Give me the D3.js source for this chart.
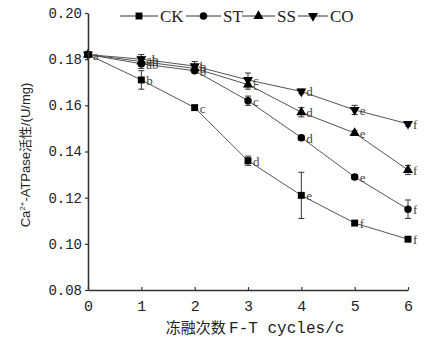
<!DOCTYPE html>
<html>
<head>
  <meta charset="utf-8">
  <script src="https://d3js.org/d3.v7.min.js"></script>
  <style>
    body { margin: 0; background: #fff; }
    .tick text { font-family: "Liberation Mono", "DejaVu Sans Mono", monospace; }
  </style>
</head>
<body>
  <div id="chart"></div>
  <script>
    // freeze-thaw cycles
    var cycles = [0, 1, 2, 3, 4, 5, 6];
    var groups = ["CK", "ST", "SS", "CO"];

    // Ca2+-ATPase activity (U/mg), mean and error
    var ckVals = [0.182, 0.171, 0.159, 0.136, 0.121, 0.109, 0.102];
    var stVals = [0.182, 0.178, 0.175, 0.162, 0.146, 0.129, 0.115];
    var ssVals = [0.182, 0.179, 0.176, 0.169, 0.157, 0.148, 0.132];
    var coVals = [0.182, 0.180, 0.177, 0.171, 0.166, 0.158, 0.152];

    var ckErr = [0.001, 0.004, 0.001, 0.002, 0.010, 0.001, 0.001];
    var stErr = [0.001, 0.002, 0.001, 0.002, 0.001, 0.001, 0.004];
    var ssErr = [0.001, 0.002, 0.001, 0.002, 0.002, 0.001, 0.002];
    var coErr = [0.001, 0.002, 0.002, 0.003, 0.001, 0.002, 0.001];

    // significance letters
    var ckSig = ["a", "b", "c", "d", "e", "f", "f"];
    var stSig = ["", "ab", "b", "c", "d", "e", "f"];
    var ssSig = ["", "ab", "b", "c", "d", "e", "f"];
    var coSig = ["", "ab", "b", "c", "d", "e", "f"];

    var yTicks = [0.08, 0.10, 0.12, 0.14, 0.16, 0.18, 0.20];

    var series = [
      { name: groups[0], vals: ckVals, err: ckErr, sig: ckSig, shape: d3.symbolSquare, size: 48 },
      { name: groups[1], vals: stVals, err: stErr, sig: stSig, shape: d3.symbolCircle, size: 44 },
      { name: groups[2], vals: ssVals, err: ssErr, sig: ssSig, shape: d3.symbolTriangle, size: 44 },
      { name: groups[3], vals: coVals, err: coErr, sig: coSig, shape: d3.symbolTriangle, size: 44, flip: true }
    ];

    var width = 434, height = 344;
    var svg = d3.select("#chart").append("svg")
      .attr("width", width)
      .attr("height", height);

    var xmin = 88, xmax = 408, ymin = 13, ymax = 290;

    var x = d3.scaleLinear().domain([0, 6]).range([xmin, xmax]);
    var y = d3.scaleLinear().domain([0.08, 0.20]).range([ymax, ymin]);

    var line = d3.line()
      .x((d, i) => x(cycles[i]))
      .y(d => y(d));

    var gData = svg.append("g");

    for (var s of series) {
      gData.append("path")
        .datum(s.vals)
        .attr("d", line)
        .attr("fill", "none")
        .attr("stroke", "#555")
        .attr("stroke-width", 1);
    }

    // error bars
    for (var s of series) {
      s.vals.forEach(function(v, i) {
        var cx = x(cycles[i]);
        var y0 = y(v - s.err[i]), y1 = y(v + s.err[i]);
        var g = gData.append("g").attr("stroke", "#333").attr("stroke-width", 1);
        g.append("line").attr("x1", cx).attr("x2", cx).attr("y1", y0).attr("y2", y1);
        g.append("line").attr("x1", cx - 3).attr("x2", cx + 3).attr("y1", y0).attr("y2", y0);
        g.append("line").attr("x1", cx - 3).attr("x2", cx + 3).attr("y1", y1).attr("y2", y1);
      });
    }

    // markers
    for (var s of series) {
      var sym = d3.symbol().type(s.shape).size(s.size);
      gData.selectAll(null)
        .data(s.vals)
        .enter()
        .append("path")
        .attr("d", sym)
        .attr("fill", "#000")
        .attr("transform", (d, i) => "translate(" + x(cycles[i]) + "," + y(d) + ")" + (s.flip ? " rotate(180)" : ""));
    }

    // letters
    for (var s of series) {
      gData.selectAll(null)
        .data(s.vals)
        .enter()
        .append("text")
        .attr("x", (d, i) => x(cycles[i]) + 5)
        .attr("y", d => y(d) + 5)
        .attr("font-family", "Liberation Serif, serif")
        .attr("font-size", 13)
        .attr("fill", "#444")
        .text((d, i) => s.sig[i]);
    }

    // axes
    var xAxis = d3.axisBottom(x).tickValues(cycles).tickFormat(d3.format("d"))
      .tickSizeInner(-3).tickSizeOuter(0).tickPadding(7);
    var yAxis = d3.axisLeft(y).tickValues(yTicks).tickFormat(d3.format(".2f"))
      .tickSizeInner(3).tickSizeOuter(0).tickPadding(3);

    var gx = svg.append("g")
      .attr("transform", "translate(0," + ymax + ")")
      .call(xAxis);
    var gy = svg.append("g")
      .attr("transform", "translate(" + xmin + ",0)")
      .call(yAxis);

    [gx, gy].forEach(function(g) {
      g.select(".domain").attr("stroke", "#333").attr("stroke-width", 1.6);
      g.selectAll(".tick line").attr("stroke", "#333").attr("stroke-width", 1.2);
      g.selectAll(".tick text").attr("font-size", 15).attr("fill", "#222");
    });
    gx.selectAll(".tick text").attr("dy", "0.9em");
    gy.selectAll(".tick text").attr("font-size", 14);

    // axis titles
    svg.append("text")
      .attr("x", 255)
      .attr("y", 333)
      .attr("text-anchor", "middle")
      .attr("font-size", 15)
      .attr("fill", "#222")
      .call(function(t) {
        t.append("tspan").attr("font-family", "Noto Sans CJK SC").text("冻融次数 ");
        t.append("tspan").attr("font-family", "Liberation Mono, monospace").attr("font-size", 16).text("F-T cycles/c");
      });

    var yt = svg.append("text")
      .attr("transform", "translate(30,155) rotate(-90)")
      .attr("text-anchor", "middle")
      .attr("font-size", 13)
      .attr("fill", "#222")
      .attr("font-family", "Liberation Sans, sans-serif");
    yt.append("tspan").text("Ca");
    yt.append("tspan").attr("font-size", 8).attr("dy", -5).text("2+");
    yt.append("tspan").attr("dy", 5).text("-ATPase");
    yt.append("tspan").attr("font-family", "Noto Sans CJK SC").text("活性");
    yt.append("tspan").text("/(U/mg)");

    // legend
    var legX = [120, 186, 242, 298];
    var legW = [38, 35, 33, 30];
    var legend = svg.append("g").attr("transform", "translate(0,16)");
    series.forEach(function(s, i) {
      var g = legend.append("g").attr("transform", "translate(" + legX[i] + ",0)");
      g.append("line").attr("x1", 0).attr("x2", legW[i]).attr("y1", 0).attr("y2", 0)
        .attr("stroke", "#333").attr("stroke-width", 1);
      g.append("path")
        .attr("d", d3.symbol().type(s.shape).size(s.size)())
        .attr("transform", "translate(" + legW[i] / 2 + ",0)" + (s.flip ? " rotate(180)" : ""))
        .attr("fill", "#000");
      g.append("text")
        .attr("x", legW[i] + 2)
        .attr("y", 6)
        .attr("font-family", "Liberation Serif, serif")
        .attr("font-size", 17)
        .attr("fill", "#222")
        .text(s.name);
    });
  </script>
</body>
</html>
